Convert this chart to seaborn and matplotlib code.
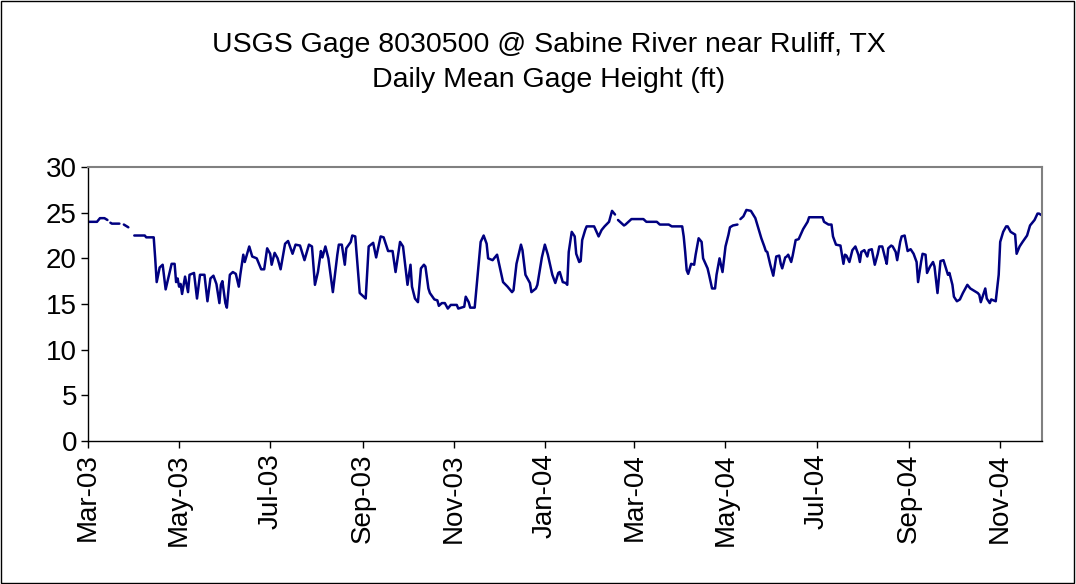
import numpy as np
import pandas as pd
import matplotlib
matplotlib.use("Agg")
import matplotlib.pyplot as plt
import matplotlib.dates as mdates
from matplotlib.patches import Rectangle
import seaborn as sns

# daily mean gage height (days since 2003-03-01, ft); NaN = missing days
start_date = "2003-03-01"
day_offset = [
    0, 6, 8, 11, 13, 14, 15, 16, 21, 22, 24, 27, 28, 31, 38, 39, 44, 45, 46, 48,
    50, 52, 55, 56, 58, 59, 60, 61, 62, 63, 65, 67, 68, 71, 73, 75, 78, 80, 82, 84,
    86, 88, 89, 90, 92, 93, 95, 97, 99, 101, 102, 104, 105, 108, 110, 113, 116, 118, 120, 122,
    123, 125, 127, 129, 132, 134, 137, 139, 142, 145, 148, 150, 152, 154, 156, 157, 159, 161, 164, 167,
    168, 170, 172, 173, 176, 177, 179, 182, 184, 186, 188, 191, 193, 196, 198, 201, 204, 206, 209, 211,
    214, 216, 217, 219, 221, 223, 225, 226, 228, 229, 232, 234, 235, 237, 239, 241, 243, 247, 248, 252,
    253, 255, 256, 259, 262, 263, 265, 267, 268, 271, 272, 274, 276, 278, 281, 284, 285, 287, 290, 291,
    293, 296, 297, 300, 301, 304, 306, 308, 311, 313, 315, 316, 318, 320, 321, 322, 324, 326, 327, 329,
    330, 331, 333, 334, 339, 342, 344, 346, 349, 351, 353, 354, 355, 359, 360, 362, 364, 372, 374, 381,
    383, 389, 391, 398, 399, 400, 401, 402, 404, 406, 407, 409, 411, 412, 415, 416, 418, 420, 421, 423,
    425, 427, 429, 430, 432, 435, 436, 437, 439, 441, 444, 447, 449, 451, 453, 454, 455, 457, 459, 461,
    463, 464, 465, 467, 468, 469, 471, 472, 474, 476, 479, 482, 483, 492, 493, 496, 498, 499, 501, 504,
    506, 507, 508, 510, 512, 514, 516, 517, 518, 520, 522, 523, 525, 527, 529, 530, 532, 534, 535, 536,
    538, 539, 541, 542, 544, 545, 547, 549, 551, 553, 555, 556, 558, 559, 561, 562, 564, 566, 567, 569,
    571, 573, 576, 577, 579, 580, 582, 584, 586, 588, 589, 591, 593, 596, 597, 598, 601, 602, 604, 605,
    608, 610, 611, 613, 615, 616, 618, 621, 622, 624, 626, 629, 631, 634, 636, 637, 639,
]
gage_ft = [
    24.0, 24.0, 24.4, 24.4, 24.2, np.nan, 23.9, 23.8, 23.8, np.nan, 23.7, 23.4, np.nan, 22.5, 22.5, 22.3, 22.3, 20.0, 17.4, 19.0,
    19.3, 16.6, 18.7, 19.4, 19.4, 17.4, 17.8, 16.9, 17.2, 16.1, 18.0, 16.3, 18.2, 18.4, 15.6, 18.2, 18.2, 15.3, 17.8, 18.1,
    17.2, 15.1, 17.1, 17.5, 15.1, 14.6, 18.2, 18.5, 18.3, 16.9, 18.2, 20.4, 19.6, 21.3, 20.2, 20.0, 18.8, 18.8, 21.1, 20.5,
    19.3, 20.6, 20.0, 18.8, 21.6, 21.9, 20.5, 21.5, 21.4, 19.8, 21.5, 21.3, 17.1, 18.5, 20.8, 20.1, 21.3, 20.0, 16.3, 20.4,
    21.5, 21.5, 19.3, 21.1, 21.8, 22.5, 22.4, 16.2, 15.9, 15.6, 21.3, 21.7, 20.1, 22.4, 22.3, 20.8, 20.8, 18.5, 21.8, 21.3,
    17.1, 19.3, 16.9, 15.6, 15.2, 18.9, 19.3, 19.1, 16.7, 16.2, 15.5, 15.4, 14.8, 15.1, 15.1, 14.5, 14.9, 14.9, 14.5, 14.7,
    15.8, 15.2, 14.6, 14.6, 20.0, 21.8, 22.5, 21.6, 20.0, 19.8, 20.0, 20.4, 18.9, 17.4, 16.9, 16.3, 16.5, 19.4, 21.5, 20.9,
    18.2, 17.3, 16.3, 16.7, 17.1, 20.1, 21.5, 20.4, 18.2, 17.3, 18.4, 18.5, 17.4, 17.3, 17.1, 20.7, 22.9, 22.4, 20.5, 19.6,
    19.7, 22.0, 23.1, 23.5, 23.5, 22.4, 23.1, 23.5, 24.0, 25.2, 24.8, np.nan, 24.2, 23.6, 23.7, 24.0, 24.3, 24.3, 24.0, 24.0,
    23.7, 23.7, 23.5, 23.5, 22.4, 20.7, 18.7, 18.3, 19.4, 19.3, 20.4, 22.2, 21.8, 20.0, 18.9, 18.2, 16.7, 16.7, 18.2, 20.0,
    18.5, 21.3, 22.6, 23.4, 23.6, 23.7, np.nan, 24.3, 24.6, 25.3, 25.2, 24.4, 23.3, 22.2, 21.3, 20.8, 20.7, 19.3, 18.1, 20.2,
    20.3, 19.4, 18.9, 20.1, 20.2, 20.4, 19.6, 20.3, 22.0, 22.1, 23.2, 24.0, 24.5, 24.5, 24.0, 23.7, 23.7, 22.4, 21.5, 21.4,
    19.4, 20.4, 20.3, 19.6, 20.9, 21.3, 20.4, 19.6, 20.7, 20.9, 20.2, 20.9, 21.0, 19.3, 20.5, 21.3, 21.3, 20.0, 19.4, 21.1,
    21.4, 21.3, 20.7, 19.8, 21.8, 22.4, 22.5, 20.8, 21.0, 20.5, 19.6, 17.4, 19.6, 20.5, 20.4, 18.4, 19.1, 19.6, 19.1, 16.2,
    19.7, 19.8, 18.2, 18.4, 17.1, 15.8, 15.3, 15.5, 16.2, 16.8, 17.1, 16.7, 16.5, 16.2, 16.0, 15.2, 16.7, 15.6, 15.1, 15.5,
    15.3, 18.2, 21.8, 22.9, 23.5, 23.5, 22.9, 22.6, 20.5, 21.3, 21.8, 22.5, 23.6, 24.2, 24.9, 24.9, 24.7,
]
title_lines = ["USGS Gage 8030500 @ Sabine River near Ruliff, TX", "Daily Mean Gage Height (ft)"]
y_ticks = [0, 5, 10, 15, 20, 25, 30]

df = pd.DataFrame({"date": pd.Timestamp(start_date) + pd.to_timedelta(day_offset, unit="D"),
                   "height": gage_ft})
# break the line where days are missing
df["seg"] = df["height"].isna().cumsum()
df = df.dropna()

sns.set_theme(style="white")
plt.rcParams["font.family"] = ["Liberation Sans", "DejaVu Sans"]
plt.rcParams["text.color"] = "black"

fig = plt.figure(figsize=(10.76, 5.84), dpi=100)
ax = fig.add_axes([0.0818, 0.2449, 0.8866, 0.4691])

sns.lineplot(data=df, x="date", y="height", units="seg", estimator=None,
             color="#000080", linewidth=1.8, ax=ax, legend=False)

ax.set_xlim(df["date"].min(), df["date"].max())
ax.set_ylim(0, 30)
ax.set_yticks(y_ticks)
ax.xaxis.set_major_locator(mdates.MonthLocator(bymonth=[1, 3, 5, 7, 9, 11]))
ax.xaxis.set_major_formatter(mdates.DateFormatter("%b-%y"))
ax.set_xlabel("")
ax.set_ylabel("")

ax.tick_params(axis="both", which="major", labelsize=20, length=5, width=1,
               color="black", labelcolor="black", direction="out", pad=3)
ax.tick_params(axis="x", rotation=90, pad=4)
ax.tick_params(left=True, bottom=True)

for side in ["left", "bottom"]:
    ax.spines[side].set_color("black")
    ax.spines[side].set_linewidth(1)
for side in ["top", "right"]:
    ax.spines[side].set_color("#808080")
    ax.spines[side].set_linewidth(1.5)

fig.text(0.51, 1 - 45 / 584, title_lines[0], ha="center", va="center", fontsize=20.5, color="black")
fig.text(0.51, 1 - 80 / 584, title_lines[1], ha="center", va="center", fontsize=20.5, color="black")

fig.patches.append(Rectangle((0.001, 0.002), 0.997, 0.996, transform=fig.transFigure,
                             fill=False, edgecolor="black", linewidth=1))

fig.savefig("out.png", dpi=100)
